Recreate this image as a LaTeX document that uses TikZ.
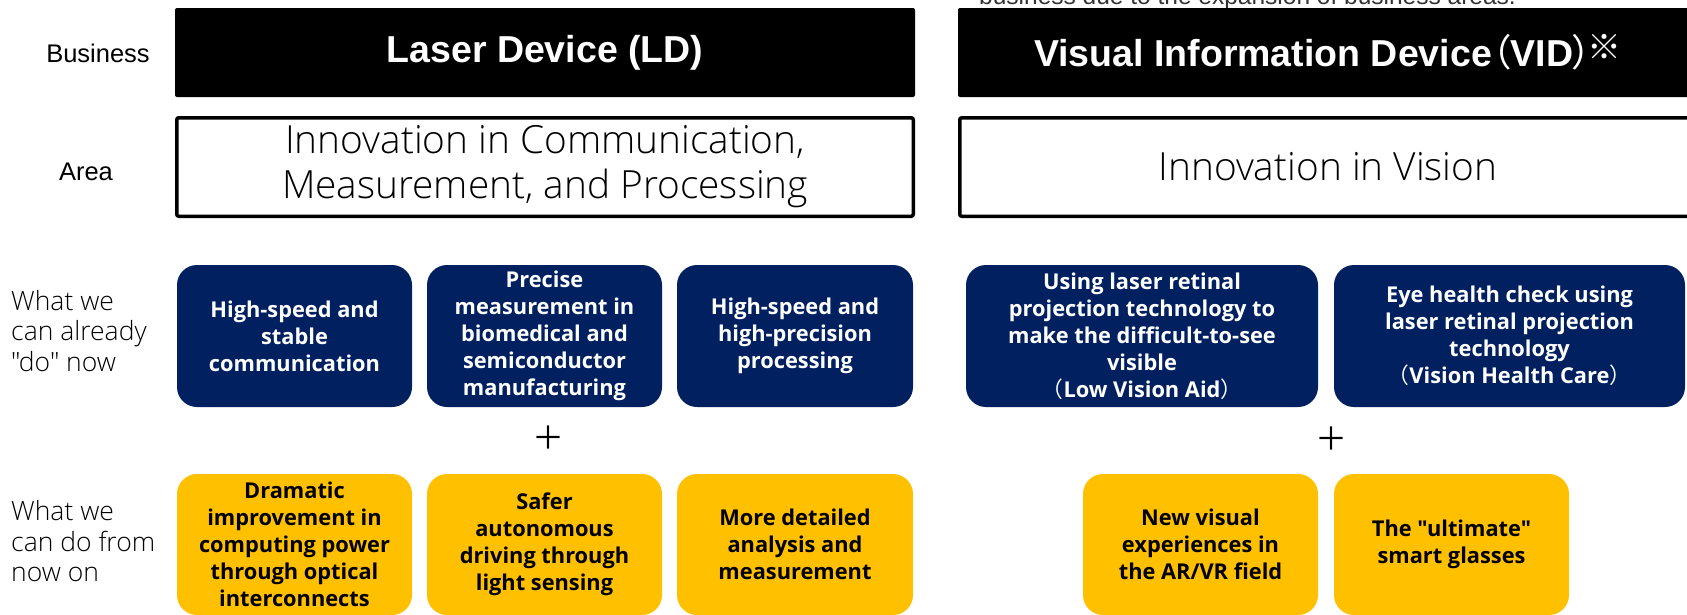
\documentclass[tikz,border=0pt]{standalone}
\usepackage{fontspec}
\setmainfont{Liberation Sans}
\newfontfamily\boxfont{Open Sans}
\IfFontExistsTF{Open Sans Light}
  {\newfontfamily\thinfont{Open Sans Light}}
  {\newfontfamily\thinfont{Open Sans}}
\newfontfamily\cjkfont{Noto Sans CJK JP}
\newfontfamily\cjkprop{Noto Sans CJK JP}[RawFeature=+palt]

\definecolor{navy}{HTML}{002060}
\definecolor{gold}{HTML}{FFC000}

\tikzset{
  titlebox/.style={fill=black, text=white, rounded corners=2pt, inner sep=0pt,
    minimum width=740pt, minimum height=89pt,
    font=\bfseries\fontsize{37.5}{40}\selectfont},
  areabox/.style={draw=black, line width=3.5pt, fill=white, rounded corners=2pt,
    inner sep=0pt, minimum width=736.5pt, minimum height=98.5pt, align=center,
    font=\thinfont\fontsize{38.8}{45}\selectfont},
  rowlabel/.style={inner sep=0pt, font=\fontsize{25.5}{30}\selectfont},
  stagelabel/.style={inner sep=0pt, anchor=west, align=left,
    font=\thinfont\fontsize{26.5}{30.5}\selectfont},
  cardbase/.style={rounded corners=20pt, inner sep=0pt, align=center,
    minimum height=142pt, font=\boxfont\bfseries\fontsize{21.8}{27}\selectfont},
  nowcard/.style={cardbase, fill=navy, text=white},
  nextcard/.style={cardbase, fill=gold, text=black, minimum height=141pt},
  plusmark/.style={inner sep=0pt, font=\cjkfont\fontsize{32}{32}\selectfont},
}

\begin{document}
\begin{tikzpicture}[x=1pt, y=-1pt]
\useasboundingbox (0,0) rectangle (1687,614);
\clip (0,0) rectangle (1687,614);

% footnote line running off the top edge
\node[anchor=base west, inner sep=0pt, text=black!80,
      font=\fontsize{24.5}{28}\selectfont] (topnote) at (979,4)
  {business due to the expansion of business areas.};

% row headings
\node[rowlabel] (lblbiz)  at (98,53)  {Business};
\node[rowlabel] (lblarea) at (86,172) {Area};
\node[stagelabel] (lblnow)  at (11,331)   {What we\\can already\\"do" now};
\node[stagelabel] (lblnext) at (11,541.5) {What we\\can do from\\now on};

% business titles
\node[titlebox] (ldtitle)  at (545,52.5)  {Laser Device (LD)};
\node[titlebox] (vidtitle) at (1328,52.5)
  {Visual Information Device{\cjkprop\mdseries（}VID{\cjkprop\mdseries）}\kern-4pt\raisebox{7pt}{\cjkfont\bfseries\fontsize{34}{34}\selectfont ※}};

% areas
\node[areabox] (ldarea)  at (545,167)  {Innovation in Communication,\\Measurement, and Processing};
\node[areabox] (vidarea) at (1328,167) {Innovation in Vision};

% what can be done now
\node[nowcard, minimum width=235pt] (now1) at (294.5,336)
  {High-speed and\\stable\\communication};
\node[nowcard, minimum width=235pt] (now2) at (544.5,336)
  {Precise\\measurement in\\biomedical and\\semiconductor\\manufacturing};
\node[nowcard, minimum width=236pt] (now3) at (795,336)
  {High-speed and\\high-precision\\processing};
\node[nowcard, minimum width=352pt] (now4) at (1142,336)
  {Using laser retinal\\projection technology to\\make the difficult-to-see\\visible\\{\cjkfont\mdseries（}Low Vision Aid{\cjkfont\mdseries）}};
\node[nowcard, minimum width=351pt] (now5) at (1509.5,336)
  {Eye health check using\\laser retinal projection\\technology\\{\cjkfont\mdseries（}Vision Health Care{\cjkfont\mdseries）}};

\node[plusmark] (plusld)  at (548,438)  {＋};
\node[plusmark] (plusvid) at (1331,439) {＋};

% what becomes possible next
\node[nextcard, minimum width=235pt] (next1) at (294.5,544.5)
  {Dramatic\\improvement in\\computing power\\through optical\\interconnects};
\node[nextcard, minimum width=235pt] (next2) at (544.5,544.5)
  {Safer\\autonomous\\driving through\\light sensing};
\node[nextcard, minimum width=236pt] (next3) at (795,544.5)
  {More detailed\\analysis and\\measurement};
\node[nextcard, minimum width=235pt] (next4) at (1200.5,544.5)
  {New visual\\experiences in\\the AR/VR field};
\node[nextcard, minimum width=235pt] (next5) at (1451.5,544.5)
  {The "ultimate"\\smart glasses};
\end{tikzpicture}
\end{document}
